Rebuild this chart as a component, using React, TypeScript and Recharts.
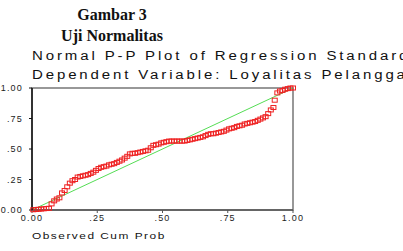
import { ScatterChart, Scatter, XAxis, YAxis, ReferenceLine, ReferenceArea } from "recharts";

const observedCumProb = [
  0.005, 0.015, 0.025, 0.035, 0.045, 0.055, 0.065,
  0.075, 0.085, 0.095, 0.105, 0.115, 0.125, 0.135, 0.145, 0.155, 0.165,
  0.175, 0.185, 0.195, 0.205, 0.215, 0.225, 0.235, 0.245, 0.255, 0.265,
  0.275, 0.285, 0.295, 0.305, 0.315, 0.325, 0.335, 0.345, 0.355, 0.365,
  0.375, 0.385, 0.395, 0.405, 0.415, 0.425, 0.435, 0.445, 0.455, 0.465,
  0.475, 0.485, 0.495, 0.505, 0.515, 0.525, 0.535, 0.545, 0.555, 0.565,
  0.575, 0.585, 0.595, 0.605, 0.615, 0.625, 0.635, 0.645, 0.655, 0.665,
  0.675, 0.685, 0.695, 0.705, 0.715, 0.725, 0.735, 0.745, 0.755, 0.765,
  0.775, 0.785, 0.795, 0.805, 0.815, 0.825, 0.835, 0.845, 0.855, 0.865,
  0.875, 0.885, 0.895, 0.905, 0.915, 0.925, 0.93, 0.94, 0.95, 0.96,
  0.97, 0.98, 0.99, 1.0,
];

const expectedCumProb = [
  0.002, 0.004, 0.006, 0.008, 0.01, 0.012, 0.014,
  0.05, 0.075, 0.09, 0.1, 0.14, 0.16, 0.19, 0.22, 0.24, 0.25,
  0.27, 0.275, 0.28, 0.285, 0.29, 0.3, 0.31, 0.325, 0.34, 0.35,
  0.355, 0.36, 0.37, 0.375, 0.38, 0.39, 0.4, 0.41, 0.425, 0.44,
  0.46, 0.465, 0.465, 0.47, 0.475, 0.48, 0.485, 0.49, 0.51, 0.53,
  0.535, 0.54, 0.55, 0.555, 0.56, 0.565, 0.565, 0.565, 0.565, 0.565,
  0.565, 0.565, 0.57, 0.575, 0.58, 0.585, 0.59, 0.595, 0.6, 0.61,
  0.62, 0.625, 0.625, 0.63, 0.635, 0.64, 0.645, 0.655, 0.665, 0.67,
  0.675, 0.685, 0.69, 0.695, 0.705, 0.71, 0.715, 0.72, 0.725, 0.735,
  0.745, 0.755, 0.765, 0.79, 0.82, 0.84, 0.9, 0.96, 0.975, 0.98,
  0.99, 0.995, 1.0, 1.0,
];

const tickValues = [0, 0.25, 0.5, 0.75, 1];
const tickLabels = ["0.00", ".25", ".50", ".75", "1.00"];

const points = observedCumProb.map((x, i) => ({ x, y: expectedCumProb[i] }));

const fmt = (v: number) => tickLabels[tickValues.indexOf(v)] ?? "";

const sans = "Liberation Sans, Arial, sans-serif";
const tickStyle = { fontSize: 9, fontFamily: sans, fill: "#222", letterSpacing: 1.2 };

// the old SPSS export has wide, stretched lettering
const wideText = (top: number, size: number, spacing: number) => ({
  position: "absolute" as const,
  left: 32,
  top,
  whiteSpace: "nowrap" as const,
  fontFamily: sans,
  fontSize: size,
  letterSpacing: spacing,
  color: "#111",
  transform: "scaleX(1.25)",
  transformOrigin: "left top",
});

// small hollow square marker like the SPSS plot
const Square = (props: any) => {
  const { cx, cy } = props;
  return <rect x={cx - 2.5} y={cy - 2} width={5} height={4} fill="none" stroke="#ee2222" strokeWidth={1} />;
};

export default function App() {
  return (
    <div style={{ position: "absolute", left: 0, top: 0, width: 403, height: 251, background: "#fff", overflow: "hidden" }}>
      <div style={{ position: "absolute", left: 0, width: 224, top: 4, textAlign: "center", fontFamily: "Liberation Serif, Times New Roman, serif", fontWeight: "bold", fontSize: 16, lineHeight: "21px", color: "#111" }}>
        Gambar 3<br />Uji Normalitas
      </div>
      <div style={wideText(49, 12, 2.3)}>Normal P-P Plot of Regression Standardized Residual</div>
      <div style={wideText(68, 12, 2.3)}>Dependent Variable: Loyalitas Pelanggan</div>
      <div style={wideText(230, 9.5, 1.2)}>Observed Cum Prob</div>
      <ScatterChart width={403} height={251} margin={{ top: 88, right: 110, bottom: 21, left: 0 }} style={{ position: "absolute", left: 0, top: 0 }}>
        <ReferenceArea x1={0} x2={1} y1={0} y2={1} fill="none" stroke="#777" strokeWidth={1.5} ifOverflow="visible" />
        <XAxis
          type="number"
          dataKey="x"
          domain={[0, 1]}
          ticks={tickValues}
          tickFormatter={fmt}
          height={20}
          tickSize={3}
          tickMargin={2}
          tick={tickStyle}
          axisLine={{ stroke: "#555", strokeWidth: 1.5 }}
          tickLine={{ stroke: "#555" }}
        />
        <YAxis
          type="number"
          dataKey="y"
          domain={[0, 1]}
          ticks={tickValues}
          tickFormatter={fmt}
          width={32}
          tickSize={3}
          tickMargin={6}
          tick={tickStyle}
          axisLine={{ stroke: "#111", strokeWidth: 1.5 }}
          tickLine={{ stroke: "#111" }}
        />
        <ReferenceLine segment={[{ x: 0, y: 0 }, { x: 1, y: 1 }]} stroke="#55dd55" strokeWidth={1} />
        <Scatter data={points} shape={Square} isAnimationActive={false} />
      </ScatterChart>
    </div>
  );
}
